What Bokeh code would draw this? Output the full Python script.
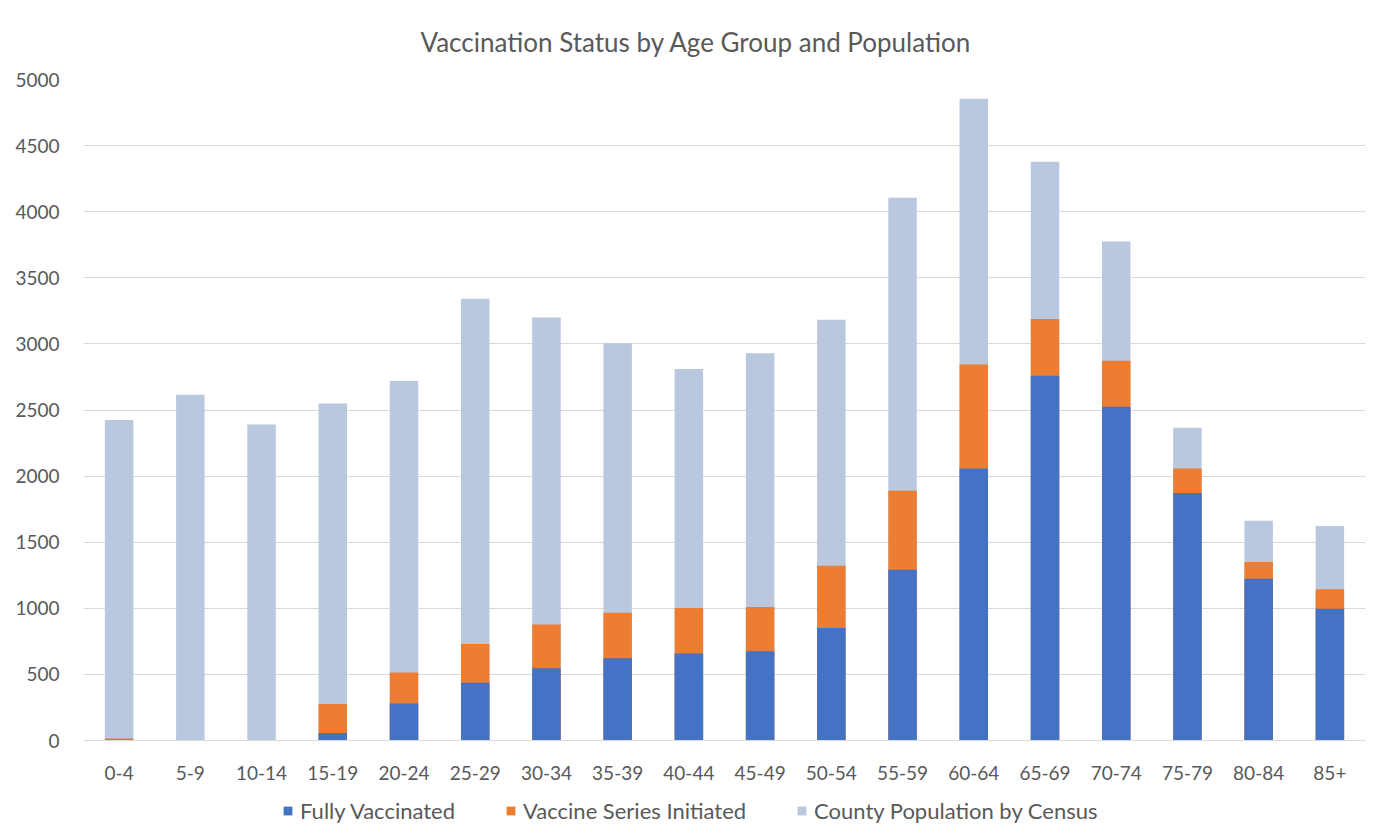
from bokeh.plotting import figure
from bokeh.layouts import column
from bokeh.models import ColumnDataSource, Legend, LegendItem, Range1d, FactorRange, SingleIntervalTicker
from bokeh.embed import file_html
from bokeh.resources import INLINE

age_groups = ["0-4", "5-9", "10-14", "15-19", "20-24", "25-29", "30-34", "35-39", "40-44",
              "45-49", "50-54", "55-59", "60-64", "65-69", "70-74", "75-79", "80-84", "85+"]
fully_vaccinated = [5, 0, 0, 57, 280, 436, 547, 622, 659, 676, 851, 1291, 2057, 2760, 2524, 1872, 1223, 997]
series_initiated = [15, 0, 0, 277, 514, 730, 878, 966, 1003, 1010, 1321, 1889, 2845, 3189, 2872, 2057, 1351, 1145]
population = [2425, 2615, 2390, 2550, 2720, 3341, 3200, 3005, 2811, 2929, 3182, 4105, 4855, 4378, 3774, 2365, 1662, 1622]
series_names = ["Fully Vaccinated", "Vaccine Series Initiated", "County Population by Census"]
series_cols = ["fully", "init", "pop"]
series_colors = ["#4472C4", "#ED7D31", "#BAC8DF"]

FONT = "Lato"
TXT = "#595959"

src = ColumnDataSource(dict(age=age_groups, fully=fully_vaccinated,
                            init=series_initiated, pop=population))

p = figure(x_range=FactorRange(*age_groups, range_padding=0), y_range=Range1d(0, 5000),
           frame_width=1282, frame_height=661, output_backend="svg", toolbar_location=None,
           min_border_left=83, min_border_right=3, min_border_top=79, min_border_bottom=50)

p.title.text = "Vaccination Status by Age Group and Population"
p.title.align = "left"
p.title.offset = 337
p.title.text_font = FONT
p.title.text_font_size = "26px"
p.title.text_font_style = "normal"
p.title.text_color = TXT
p.title.standoff = 44

# drawn back to front: population, initiated, fully vaccinated
for col, colour in reversed(list(zip(series_cols, series_colors))):
    p.vbar(x="age", top=col, width=0.4, source=src, color=colour, line_color=None)

p.outline_line_color = None
p.background_fill_color = "white"
p.border_fill_color = "white"

p.xgrid.grid_line_color = None
p.ygrid.grid_line_color = "#D9D9D9"
p.ygrid.grid_line_width = 1
p.yaxis.ticker = SingleIntervalTicker(interval=500)

p.yaxis.axis_line_color = None
p.yaxis.major_tick_line_color = None
p.yaxis.minor_tick_line_color = None
p.yaxis.major_tick_out = 0
p.yaxis.major_label_standoff = 20
p.yaxis.major_label_text_font = FONT
p.yaxis.major_label_text_font_size = "19px"
p.yaxis.major_label_text_color = TXT

p.xaxis.axis_line_color = "#D9D9D9"
p.xaxis.major_tick_line_color = None
p.xaxis.minor_tick_line_color = None
p.xaxis.major_tick_out = 0
p.xaxis.major_label_standoff = 25
p.xaxis.major_label_text_font = FONT
p.xaxis.major_label_text_font_size = "19px"
p.xaxis.major_label_text_color = TXT

# legend strip below the chart (its renderers are hidden, only the legend shows)
lg = figure(width=1368, height=42, x_range=FactorRange(*age_groups), y_range=Range1d(-2, -1),
            x_axis_type=None, y_axis_type=None, output_backend="svg", toolbar_location=None,
            min_border=0)
lg.outline_line_color = None
lg.xgrid.visible = False
lg.ygrid.visible = False
items = []
for name, col, colour in zip(series_names, series_cols, series_colors):
    r = lg.vbar(x="age", top=col, width=0.4, source=src, color=colour, line_color=None)
    r.visible = False
    items.append(LegendItem(label=name, renderers=[r]))
legend = Legend(items=items, orientation="horizontal", location=(199, 8))
legend.click_policy = "none"
legend.label_text_font = FONT
legend.label_text_font_size = "22px"
legend.label_text_color = TXT
legend.glyph_width = 11
legend.glyph_height = 11
legend.spacing = 50
legend.label_standoff = 7
legend.border_line_color = None
legend.background_fill_alpha = 0
legend.margin = 0
legend.padding = 0
lg.add_layout(legend, "center")

layout = column(p, lg, spacing=0)
open("out.html", "w").write(file_html(layout, INLINE))
